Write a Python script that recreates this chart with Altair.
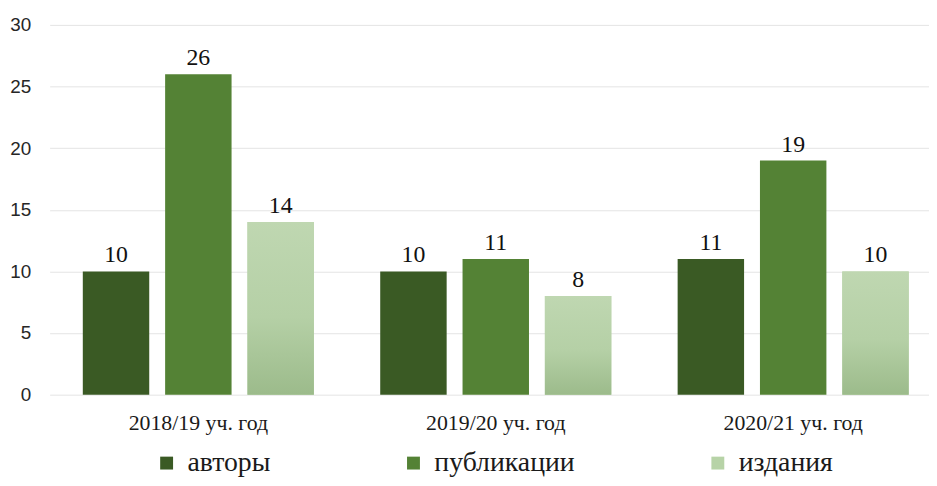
import altair as alt
import pandas as pd

years = ["2018/19 уч. год", "2019/20 уч. год", "2020/21 уч. год"]
series = ["авторы", "публикации", "издания"]
authors = [10, 10, 11]
publications = [26, 11, 19]
editions = [14, 8, 10]
colors = ["#3A5A24", "#548235", "#B7D3A7"]

rows = []
for i, y in enumerate(years):
    for s, vals in zip(series, [authors, publications, editions]):
        rows.append({"year": y, "series": s, "value": vals[i]})
df = pd.DataFrame(rows)

SERIF = "Liberation Serif"

x_enc = alt.X("year:N", sort=years, title=None,
              scale=alt.Scale(paddingInner=0.223, paddingOuter=0.1115),
              axis=alt.Axis(labelAngle=0, domain=False, ticks=False, labelPadding=18,
                            labelFont=SERIF, labelFontSize=22, labelColor="#1a1a1a"))
xo_enc = alt.XOffset("series:N", sort=series,
                     scale=alt.Scale(paddingInner=0.193, paddingOuter=0))
y_enc = alt.Y("value:Q", title=None,
              scale=alt.Scale(domain=[0, 30]),
              axis=alt.Axis(values=[0, 5, 10, 15, 20, 25, 30], domain=False, ticks=False,
                            labelPadding=19, labelFont="Liberation Sans", labelFontSize=19,
                            labelColor="#262626", gridColor="#E4E4E4", gridWidth=1))

base = alt.Chart(df)

bars = base.mark_bar().encode(
    x=x_enc, xOffset=xo_enc, y=y_enc,
    color=alt.Color("series:N", sort=series,
                    scale=alt.Scale(domain=series, range=colors),
                    legend=alt.Legend(title=None, orient="none", direction="horizontal",
                                      legendX=104, legendY=428,
                                      labelFont=SERIF, labelFontSize=28,
                                      labelColor="#1a1a1a", labelLimit=400,
                                      symbolType="square",
                                      symbolSize=169, symbolStrokeWidth=0,
                                      columnPadding=130, labelOffset=7)),
)

grad = alt.Gradient(gradient="linear", x1=0, y1=0, x2=0, y2=1,
                    stops=[alt.GradientStop(offset=0, color="#BFD7B1"),
                           alt.GradientStop(offset=0.55, color="#B5D0A6"),
                           alt.GradientStop(offset=1, color="#9CBB8B")])

light = base.transform_filter(alt.datum.series == "издания").mark_bar(color=grad).encode(
    x=x_enc, xOffset=xo_enc, y=y_enc,
)

labels = base.mark_text(dy=-9, baseline="alphabetic", font=SERIF, fontSize=24,
                        color="#111111").encode(
    x=x_enc, xOffset=xo_enc, y=y_enc, text="value:Q",
)

chart = alt.layer(bars, light, labels).properties(
    width=900, height=373,
    autosize=alt.AutoSizeParams(type="none"),
    padding={"left": 42, "top": 15, "right": -13, "bottom": 82},
).configure_view(stroke=None)

chart.save("out.html", embed_options={"renderer": "svg", "actions": False})
